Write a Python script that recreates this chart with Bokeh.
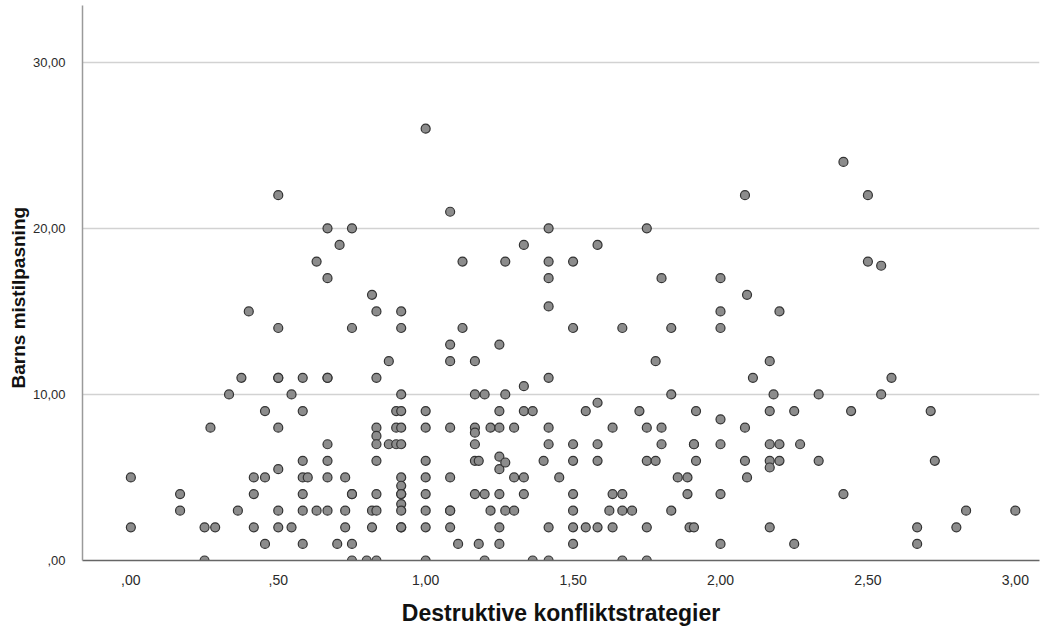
from bokeh.plotting import figure
from bokeh.models import Range1d, Title
from bokeh.embed import file_html
from bokeh.resources import INLINE

# x value of each column of points, and the y values found in that column
col_x = [0.00, 0.167, 0.25, 0.27, 0.286, 0.333, 0.363, 0.375, 0.40, 0.417,
         0.455, 0.50, 0.545, 0.583, 0.60, 0.63, 0.667, 0.70, 0.708, 0.727,
         0.75, 0.80, 0.818, 0.833, 0.875, 0.90, 0.917,
         1.00, 1.083, 1.11, 1.125, 1.167, 1.18, 1.20, 1.22, 1.25, 1.27,
         1.30, 1.333, 1.363, 1.40, 1.417, 1.453, 1.50, 1.543, 1.583, 1.623,
         1.634, 1.667, 1.70, 1.725, 1.75, 1.78, 1.80, 1.833, 1.855, 1.888,
         1.895, 1.91, 1.917,
         2.00, 2.083, 2.09, 2.11, 2.167, 2.18, 2.20, 2.25, 2.27, 2.333,
         2.417, 2.443, 2.50, 2.545, 2.58, 2.667, 2.713, 2.727, 2.80, 2.833, 3.00]

col_y = [
    [5, 2], [4, 3], [2, 0], [8], [2], [10], [3], [11], [15], [5, 4, 2],
    [9, 5, 1], [22, 14, 11, 11, 8, 5.5, 3, 2], [10, 2], [11, 9, 6, 5, 4, 3, 1], [5], [18, 3],
    [20, 17, 11, 11, 7, 6, 5, 3], [1], [19], [5, 3, 2],
    [20, 14, 4, 4, 1, 0], [0], [16, 3, 2], [15, 11, 8, 7.5, 7, 6, 4, 3, 0], [12, 7],
    [9, 8, 7], [15, 14, 10, 9, 8, 7, 5, 4.5, 4, 4, 3.4, 3, 2, 2],
    [26, 9, 8, 6, 5, 4, 3, 2, 0], [21, 13, 12, 8, 5, 3, 3, 2], [1], [18, 14],
    [12, 10, 8, 7.7, 7, 6, 4], [6, 1], [10, 4, 0], [8, 3], [13, 9, 8, 6.25, 5.5, 4, 2, 1],
    [18, 10, 5.9, 3], [8, 5, 3], [19, 10.5, 9, 5, 4], [9, 0], [6],
    [20, 18, 17, 15.3, 11, 8, 7, 2, 0], [5], [18, 14, 7, 6, 4, 3, 2, 1], [9, 2],
    [19, 9.5, 7, 6, 2], [3], [8, 4, 2], [14, 4, 3, 0], [3], [9], [20, 8, 6, 2, 0],
    [12, 6], [17, 8, 7], [14, 10, 3], [5], [5, 4], [2], [7, 7, 2], [9, 6],
    [17, 15, 14, 8.5, 7, 4, 1], [22, 8, 6], [16, 5], [11], [12, 9, 7, 6, 5.6, 2],
    [10], [15, 7, 6], [9, 1], [7], [10, 6], [24, 4], [9], [22, 18], [17.75, 10],
    [11], [2, 1], [9], [6], [2], [3], [3],
]

x_ticks = [0, 0.5, 1.0, 1.5, 2.0, 2.5, 3.0]
x_tick_labels = [",00", ",50", "1,00", "1,50", "2,00", "2,50", "3,00"]
y_ticks = [0, 10, 20, 30]
y_tick_labels = [",00", "10,00", "20,00", "30,00"]
x_title = "Destruktive konfliktstrategier"
y_title = "Barns mistilpasning"

xs, ys = [], []
for cx, cy in zip(col_x, col_y):
    for v in cy:
        xs.append(cx)
        ys.append(v)

FONT = "Liberation Sans"

p = figure(width=1043, height=628, output_backend="svg", toolbar_location=None,
           x_range=Range1d(-0.164, 3.082), y_range=Range1d(0, 33.42),
           min_border_left=82, min_border_right=4, min_border_top=5,
           min_border_bottom=66)
# let the canvas use the page's bottom margin without making the page taller
p.margin = (0, 0, -8, 0)

p.outline_line_color = None
p.background_fill_color = "white"
p.border_fill_color = "white"

p.xgrid.visible = False
p.ygrid.grid_line_color = "#d2d2d2"
p.ygrid.grid_line_width = 1.5

p.xaxis.ticker = x_ticks
p.xaxis.major_label_overrides = {t: l for t, l in zip(x_ticks, x_tick_labels)}
p.yaxis.ticker = y_ticks
p.yaxis.major_label_overrides = {t: l for t, l in zip(y_ticks, y_tick_labels)}

for ax in (p.xaxis, p.yaxis):
    ax.major_tick_line_color = None
    ax.minor_tick_line_color = None
    ax.major_label_text_font = FONT
    ax.major_label_text_color = "#2a2a2a"

p.xaxis.major_label_text_font_size = "14px"
p.xaxis.major_label_standoff = 8
p.xaxis.axis_line_color = "#666666"
p.xaxis.axis_line_width = 1.5
p.xaxis.axis_label = x_title
p.xaxis.axis_label_text_font = FONT
p.xaxis.axis_label_text_font_size = "23px"
p.xaxis.axis_label_text_font_style = "bold"
p.xaxis.axis_label_text_color = "#111111"
p.xaxis.axis_label_standoff = 12

p.yaxis.major_label_text_font_size = "13px"
p.yaxis.major_label_standoff = 11
p.yaxis.axis_line_color = "#9a9a9a"
p.yaxis.axis_line_width = 1.5

p.scatter(xs, ys, size=9, marker="circle", fill_color="#8c8c8c",
          line_color="#333333", line_width=1.2)

# y title as a side title, shifted down like the reference
p.add_layout(Title(text=y_title, align="left", offset=172, vertical_align="middle",
                   text_font=FONT, text_font_size="19px", text_font_style="bold",
                   text_color="#111111", standoff=0), "left")

open("out.html", "w").write(file_html(p, INLINE))
